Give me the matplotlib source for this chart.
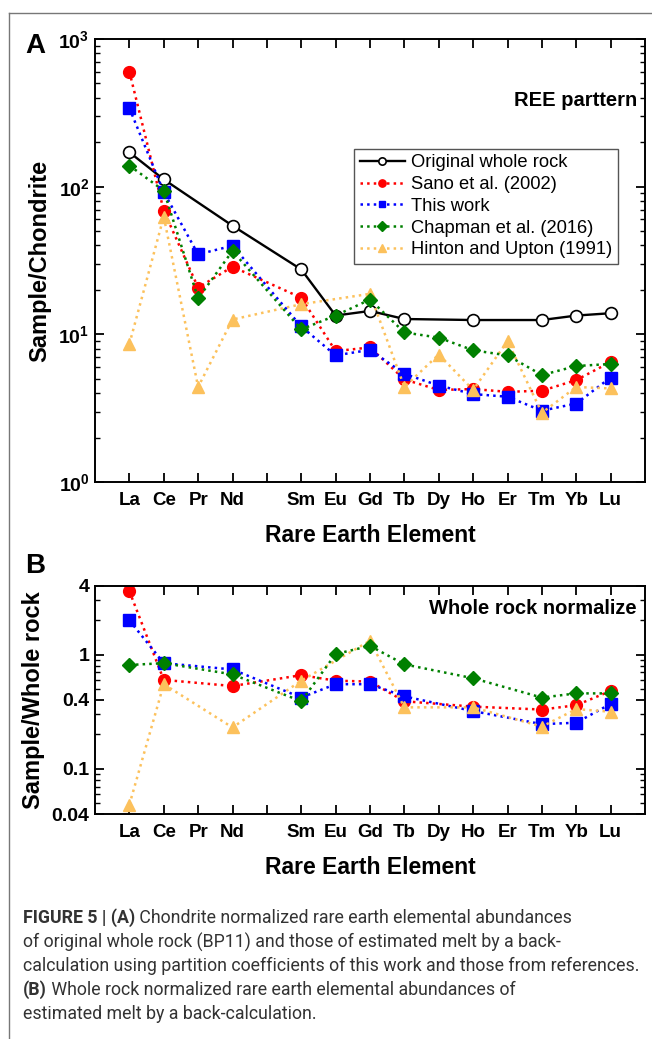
import numpy as np
import matplotlib
matplotlib.use("Agg")
import matplotlib.pyplot as plt
from matplotlib.ticker import LogLocator, FixedLocator, NullFormatter
from matplotlib.lines import Line2D

plt.rcParams['font.family'] = ['Liberation Sans', 'DejaVu Sans']
plt.rcParams['mathtext.fontset'] = 'custom'
plt.rcParams['mathtext.bf'] = 'Liberation Sans:bold'
plt.rcParams['mathtext.rm'] = 'Liberation Sans'

nan = np.nan
# ---------------- data ----------------
elements = ['La', 'Ce', 'Pr', 'Nd', '', 'Sm', 'Eu', 'Gd', 'Tb', 'Dy', 'Ho', 'Er', 'Tm', 'Yb', 'Lu']

# Panel A: Sample / Chondrite
whole_rock = [171, 112, nan, 54.4, nan, 27.5, 13.4, 14.4, 12.7, nan, 12.5, nan, 12.5, 13.4, 13.9]
sano_a     = [601, 68.8, 20.7, 28.7, nan, 17.7, 7.7, 8.15, 4.95, 4.2, 4.26, 4.08, 4.15, 4.9, 6.5]
this_a     = [340, 92, 34.8, 39.8, nan, 11.3, 7.2, 7.85, 5.4, 4.5, 3.94, 3.78, 3.04, 3.4, 5.1]
chapman_a  = [139, 94, 17.5, 36.7, nan, 10.8, 13.4, 17.2, 10.3, 9.5, 7.8, 7.2, 5.3, 6.1, 6.3]
hinton_a   = [8.6, 62.7, 4.4, 12.6, nan, 16.0, nan, 18.8, 4.4, 7.3, 4.2, 9.0, 2.94, 4.4, 4.3]

# Panel B: Sample / Whole rock
sano_b    = [3.58, 0.60, nan, 0.53, nan, 0.66, 0.59, 0.58, 0.39, nan, 0.35, nan, 0.33, 0.36, 0.48]
this_b    = [1.99, 0.84, nan, 0.74, nan, 0.42, 0.55, 0.55, 0.43, nan, 0.32, nan, 0.246, 0.253, 0.37]
chapman_b = [0.81, 0.84, nan, 0.67, nan, 0.39, 1.01, 1.19, 0.82, nan, 0.62, nan, 0.42, 0.457, 0.457]
hinton_b  = [0.0485, 0.55, nan, 0.23, nan, 0.59, nan, 1.32, 0.345, nan, 0.345, nan, 0.234, 0.333, 0.316]

labels = ['Original whole rock', 'Sano et al. (2002)', 'This work',
          'Chapman et al. (2016)', 'Hinton and Upton (1991)']
b_ticks = [0.04, 0.1, 0.4, 1, 4]
b_ticklabels = ['0.04', '0.1', '0.4', '1', '4']

# ---------------- styles ----------------
RED = '#FF0000'
BLUE = '#0000FF'
GREEN = '#008000'
YEL = '#FCC15C'
styles = {
    'whole': dict(color='black', ls='-', lw=1.7, marker='o', mfc='white', mec='black', ms=8.5, mew=1.2),
    'sano': dict(color=RED, ls=':', lw=1.8, marker='o', mfc=RED, mec=RED, ms=8.5),
    'this': dict(color=BLUE, ls=':', lw=1.8, marker='s', mfc=BLUE, mec=BLUE, ms=8),
    'chap': dict(color=GREEN, ls=':', lw=1.8, marker='D', mfc=GREEN, mec=GREEN, ms=7.5),
    'hint': dict(color=YEL, ls=':', lw=1.8, marker='^', mfc=YEL, mec=YEL, ms=9),
}

W, H = 652, 1039
fig = plt.figure(figsize=(W / 100, H / 100), dpi=100)

def ax_rect(l, t, r, b):
    return [l / W, 1 - b / H, (r - l) / W, (b - t) / H]

axA = fig.add_axes(ax_rect(95, 39, 645, 482))
axB = fig.add_axes(ax_rect(95, 585.7, 645, 814.3))

x = np.arange(len(elements))

def plot_series(ax, vals, st, label=None):
    v = np.array(vals, dtype=float)
    m = ~np.isnan(v)
    return ax.plot(x[m], v[m], label=label, **st)[0]

hA = {}
hA['whole'] = plot_series(axA, whole_rock, styles['whole'], labels[0])
hA['sano'] = plot_series(axA, sano_a, styles['sano'], labels[1])
hA['this'] = plot_series(axA, this_a, styles['this'], labels[2])
hA['hint'] = plot_series(axA, hinton_a, styles['hint'], labels[4])
hA['chap'] = plot_series(axA, chapman_a, styles['chap'], labels[3])

plot_series(axB, sano_b, styles['sano'])
plot_series(axB, this_b, styles['this'])
plot_series(axB, hinton_b, styles['hint'])
plot_series(axB, chapman_b, styles['chap'])

for ax in (axA, axB):
    ax.set_yscale('log')
    ax.set_xlim(-1, 15)
    ax.set_xticks(x)
    ax.set_xticklabels(elements, fontsize=13.5, fontweight='bold')
    ax.tick_params(axis='both', which='major', direction='in', length=6.5, width=1.3,
                   top=True, right=True, pad=7)
    ax.tick_params(axis='both', which='minor', direction='in', length=3.5, width=1.0,
                   top=True, right=True)
    ax.tick_params(axis='y', which='major', labelsize=14, pad=4)
    for s in ax.spines.values():
        s.set_linewidth(1.4)
    ax.set_xlabel('Rare Earth Element', fontsize=16.5, fontweight='bold', labelpad=11)

axA.set_ylim(1, 1000)
axA.yaxis.set_major_locator(FixedLocator([1, 10, 100, 1000]))
axA.set_yticklabels([r'$\mathbf{10^{0}}$', r'$\mathbf{10^{1}}$', r'$\mathbf{10^{2}}$', r'$\mathbf{10^{3}}$'])
axA.yaxis.set_minor_locator(LogLocator(base=10, subs=np.arange(2, 10), numticks=20))
axA.yaxis.set_minor_formatter(NullFormatter())
axA.set_ylabel('Sample/Chondrite', fontsize=17, fontweight='bold', labelpad=5)

axB.set_ylim(0.04, 4)
axB.yaxis.set_major_locator(FixedLocator(b_ticks))
axB.set_yticklabels(b_ticklabels, fontweight='bold')
axB.yaxis.set_minor_locator(LogLocator(base=10, subs=np.arange(2, 10), numticks=20))
axB.yaxis.set_minor_formatter(NullFormatter())
axB.set_ylabel('Sample/Whole rock', fontsize=17, fontweight='bold', labelpad=5)

axA.text(0.985, 0.862, 'REE parttern', transform=axA.transAxes, ha='right', va='center',
         fontsize=14.5, fontweight='bold')
axB.text(0.985, 0.902, 'Whole rock normalize', transform=axB.transAxes, ha='right', va='center',
         fontsize=14.5, fontweight='bold')

order = ['whole', 'sano', 'this', 'chap', 'hint']
leg = axA.legend([hA[k] for k in order], labels, loc='upper left',
                 bbox_to_anchor=(0.471, 0.752), borderaxespad=0, fontsize=13.2,
                 frameon=True, fancybox=False, edgecolor='#555555', framealpha=1,
                 handlelength=2.5, handletextpad=0.3, labelspacing=0.26,
                 borderpad=0.3, markerscale=0.62)
leg.get_frame().set_linewidth(1.0)

fig.text(35 / W, 1 - 46 / H, 'A', fontsize=20, fontweight='bold', ha='center', va='center')
fig.text(35 / W, 1 - 566 / H, 'B', fontsize=20, fontweight='bold', ha='center', va='center')

# frame lines (top and left)
fig.add_artist(Line2D([9 / W, 1], [1 - 13 / H, 1 - 13 / H], color='#777777', lw=1.0))
fig.add_artist(Line2D([9 / W, 9 / W], [0, 1 - 13 / H], color='#777777', lw=1.0))

# caption
cap_family = ['Liberation Sans Narrow', 'Roboto', 'Liberation Sans']
cap_color = '#333333'
lines = [
    [('FIGURE 5 | (A)', 'bold'), (' Chondrite normalized rare earth elemental abundances', 'normal')],
    [('of original whole rock (BP11) and those of estimated melt by a back-', 'normal')],
    [('calculation using partition coefficients of this work and those from references.', 'normal')],
    [('(B)', 'bold'), (' Whole rock normalized rare earth elemental abundances of', 'normal')],
    [('estimated melt by a back-calculation.', 'normal')],
]
renderer = fig.canvas.get_renderer()
probe = fig.text(0, 0, lines[2][0][0], fontsize=12, family=cap_family)
wpx = probe.get_window_extent(renderer).width
probe.remove()
cap_fs = 12 * 614 / wpx
y0 = 918
for i, segs in enumerate(lines):
    xpx = 23
    ypx = y0 + i * 24
    for txt, wt in segs:
        t = fig.text(xpx / W, 1 - ypx / H, txt, fontsize=cap_fs, fontweight=wt,
                     family=cap_family, color=cap_color, ha='left', va='center')
        xpx += t.get_window_extent(renderer).width

fig.savefig('out.png', dpi=100)
